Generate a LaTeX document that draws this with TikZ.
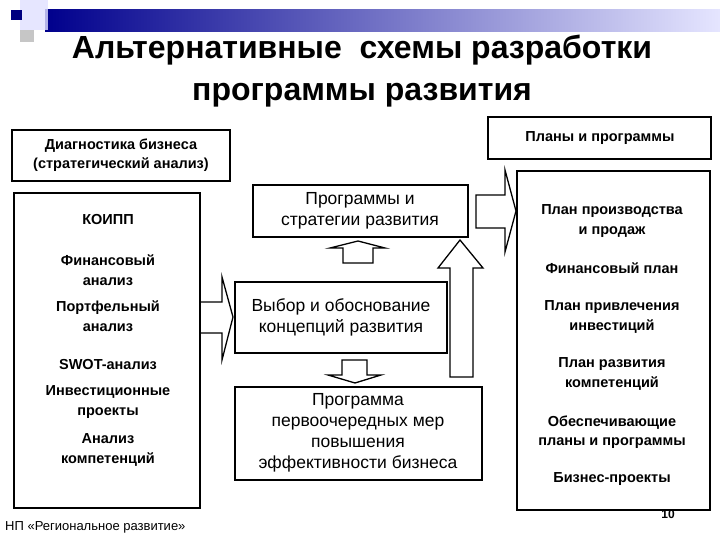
\documentclass[tikz,border=0pt]{standalone}
\usepackage{fontspec}
\setmainfont{Liberation Sans}
\begin{document}
\begin{tikzpicture}[x=1pt,y=-1pt,
 box/.style={draw,line width=2pt},
 ar/.style={draw,line width=1.3pt,fill=white,line join=miter},
 t/.style={font=\bfseries\fontsize{14.5}{19.5}\selectfont,align=center,inner sep=0},
 m/.style={font=\fontsize{17.5}{21}\selectfont,align=center,inner sep=0}]
\useasboundingbox (0,0) rectangle (720,540);
% decoration
\shade[left color=blue!55!black,right color=blue!10] (45,10) rectangle (720,32);
\fill[blue!12,opacity=0.8] (20,0) rectangle (48,30);
\fill[gray!45] (20,30) rectangle (34,42);
\fill[blue!50!black] (11,10) rectangle (22,20);
\node[font=\bfseries\fontsize{32}{42}\selectfont,align=center] (title) at (362,71) {Альтернативные\ \ схемы разработки\\программы развития};
% boxes
\draw[box] (12,130) rectangle (230,181);
\node[t] (hl) at (121,155) {Диагностика бизнеса\\(стратегический анализ)};
\draw[box] (14,193) rectangle (200,508);
\draw[box] (488,117) rectangle (711,159);
\node[t] (hr) at (600,138) {Планы и программы};
\draw[box] (517,171) rectangle (710,510);
\draw[box] (253,185) rectangle (468,237);
\node[m] (b1) at (360,211) {Программы и\\стратегии развития};
\draw[box] (235,282) rectangle (447,353);
\node[m] (b2) at (341,317) {Выбор и обоснование\\концепций развития};
\draw[box] (235,387) rectangle (482,480);
\node[m] (b3) at (358,433) {Программа\\первоочередных мер\\повышения\\эффективности бизнеса};
% left list
\node[t] (l1) at (108,220) {КОИПП};
\node[t] (l2) at (108,270) {Финансовый\\анализ};
\node[t] (l3) at (108,316) {Портфельный\\анализ};
\node[t] (l4) at (108,365) {SWOT-анализ};
\node[t] (l5) at (108,402) {Инвестиционные\\проекты};
\node[t] (l6) at (108,450) {Анализ\\компетенций};
% right list
\node[t] (r1) at (612,221) {План производства\\и продаж};
\node[t] (r2) at (612,268) {Финансовый план};
\node[t] (r3) at (612,317) {План привлечения\\инвестиций};
\node[t] (r4) at (612,374) {План развития\\компетенций};
\node[t] (r5) at (612,432) {Обеспечивающие\\планы и программы};
\node[t] (r6) at (612,479) {Бизнес-проекты};
% arrows
\path[ar] (201,302) -- (222,302) -- (222,277) -- (233,317) -- (222,360) -- (222,333) -- (201,333);
\path[ar] (343,263) -- (343,248) -- (330,248) -- (358,241) -- (385,248) -- (373,248) -- (373,263) -- cycle;
\path[ar] (342,360) -- (342,375) -- (328,375) -- (355,383) -- (381,375) -- (367,375) -- (367,360) -- cycle;
\path[ar] (450,377) -- (450,268) -- (438,268) -- (460,240) -- (483,268) -- (473,268) -- (473,377) -- cycle;
\path[ar] (476,195) -- (505,195) -- (505,170) -- (516,211) -- (505,252) -- (505,228) -- (476,228) -- cycle;
% footer
\node[font=\fontsize{13}{15}\selectfont,anchor=west,inner sep=0] (ft) at (5,527) {НП «Региональное развитие»};
\node[font=\bfseries\fontsize{12}{14}\selectfont,inner sep=0] (pg) at (668,514) {10};
\end{tikzpicture}
\end{document}
